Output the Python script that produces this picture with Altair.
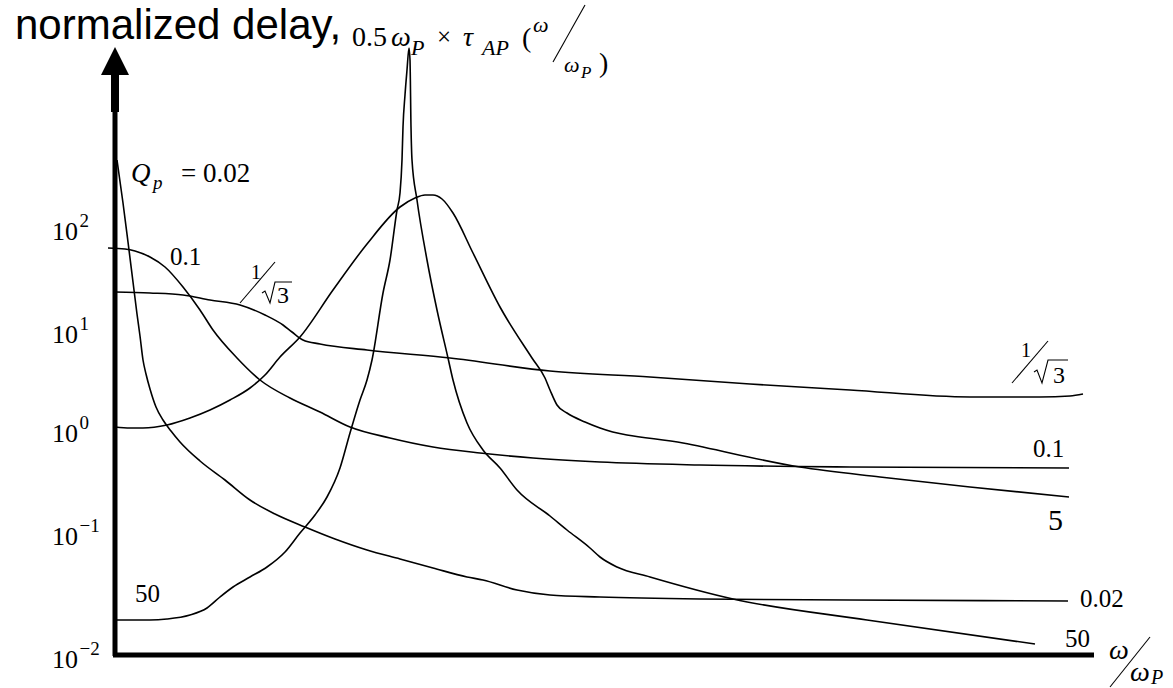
import altair as alt
import pandas as pd

# Horizontal axis: omega / omega_P (linear, arbitrary units).
# Vertical axis: log10 of the normalized delay 0.5*omega_P*tau_AP.

# --- curves, one pair of arrays per pole quality factor Q_p ---
Q002_X = [0.02, 0.08, 0.13, 0.18, 0.22, 0.25, 0.28, 0.31, 0.35, 0.41, 0.48, 0.56, 0.65, 0.85, 1.10,
          1.35, 1.60, 1.90, 2.20, 2.52, 2.85, 3.18, 3.52, 3.68, 4.02, 4.35, 4.85, 5.85, 7.35, 9.53]
Q002_Y = [2.72, 2.29, 1.90, 1.50, 1.18, 0.96, 0.72, 0.58, 0.43, 0.25, 0.12, 0.01, -0.10, -0.29, -0.48,
          -0.68, -0.82, -0.95, -1.07, -1.18, -1.27, -1.36, -1.45, -1.48, -1.58, -1.63, -1.65, -1.67, -1.68, -1.69]

Q01_X = [-0.07, 0.10, 0.20, 0.35, 0.50, 0.68, 0.85, 0.98, 1.22, 1.45, 1.75, 2.05, 2.35, 2.75, 3.18,
         3.65, 4.18, 4.85, 5.85, 7.35, 9.54]
Q01_Y = [1.84, 1.83, 1.81, 1.75, 1.65, 1.45, 1.22, 1.02, 0.74, 0.52, 0.34, 0.20, 0.05, -0.06, -0.15,
         -0.21, -0.26, -0.30, -0.33, -0.35, -0.36]

QR3_X = [0.0, 0.35, 0.68, 0.95, 1.25, 1.50, 1.68, 1.77, 1.88, 2.05, 2.52, 3.35, 4.35, 5.35, 6.35,
         7.35, 8.55, 9.25, 9.55, 9.68]
QR3_Y = [1.40, 1.39, 1.37, 1.32, 1.27, 1.17, 1.07, 1.00, 0.92, 0.88, 0.82, 0.74, 0.61, 0.55, 0.48,
         0.42, 0.35, 0.35, 0.36, 0.38]

Q5_X = [0.0, 0.15, 0.28, 0.52, 0.75, 0.95, 1.15, 1.35, 1.50, 1.65, 1.85, 2.18, 2.52, 2.85, 3.00,
        3.10, 3.18, 3.27, 3.38, 3.58, 3.85, 4.17, 4.30, 4.35, 4.42, 4.52, 4.70, 4.85, 5.68, 6.85,
        7.65, 8.55, 9.54]
Q5_Y = [0.05, 0.04, 0.04, 0.07, 0.14, 0.22, 0.32, 0.44, 0.57, 0.75, 0.95, 1.42, 1.88, 2.25, 2.34,
        2.37, 2.37, 2.33, 2.19, 1.79, 1.25, 0.74, 0.54, 0.42, 0.27, 0.19, 0.10, 0.04, -0.11, -0.35,
        -0.45, -0.55, -0.65]

Q50_X = [0.0, 0.35, 0.52, 0.75, 0.92, 1.05, 1.18, 1.35, 1.52, 1.70, 1.85, 2.00, 2.12, 2.25, 2.35,
         2.45, 2.52, 2.57, 2.68, 2.75, 2.82, 2.85, 2.87, 2.88, 2.90, 2.92, 2.94, 2.95, 2.96, 2.97,
         3.02, 3.12, 3.22, 3.33, 3.38, 3.52, 3.68, 3.85, 4.02, 4.35, 4.52, 4.75, 4.85, 5.02, 5.35,
         6.18, 7.52, 9.20]
Q50_Y = [-1.88, -1.88, -1.87, -1.83, -1.76, -1.65, -1.55, -1.45, -1.35, -1.20, -1.01, -0.83, -0.65, -0.36, -0.01,
         0.32, 0.52, 0.72, 1.39, 1.72, 2.22, 2.39, 2.72, 3.05, 3.37, 3.62, 3.84, 3.72, 3.05, 2.72,
         2.32, 1.72, 1.22, 0.74, 0.52, 0.09, -0.18, -0.36, -0.58, -0.84, -0.98, -1.16, -1.25, -1.35, -1.45,
         -1.67, -1.88, -2.12]

SERIES = [("0.02", Q002_X, Q002_Y), ("0.1", Q01_X, Q01_Y), ("1/sqrt3", QR3_X, QR3_Y),
          ("5", Q5_X, Q5_Y), ("50", Q50_X, Q50_Y)]

# --- decade labels on the vertical axis ---
TICK_BASE_Y = [1.92, 0.89, -0.10, -1.13, -2.36]
TICK_EXP = ["2", "1", "0", "\u22121", "\u22122"]

# --- curve annotations (text, x, baseline y) ---
CURVE_LABELS = [("0.1", 0.55, 1.67), ("0.1", 9.18, -0.25), ("0.02", 9.65, -1.75),
                ("50", 9.50, -2.15), ("50", 0.20, -1.70)]
BIG_LABELS = [("5", 9.33, -0.98)]
FRAC_NUM = [("1", 1.36, 1.53), ("1", 9.06, 0.75)]
FRAC_DEN = [("3", 1.62, 1.29), ("3", 9.38, 0.49)]

X_DOMAIN = [-1.15, 10.58]
Y_DOMAIN = [-2.56, 4.32]
W, H = 1173, 688
SERIF = "Liberation Serif"
SANS = "Liberation Sans"

xs = alt.Scale(domain=X_DOMAIN, nice=False, zero=False)
ys = alt.Scale(domain=Y_DOMAIN, nice=False, zero=False)


def X(f="x"):
    return alt.X(f, type="quantitative", scale=xs, axis=None)


def Y(f="y"):
    return alt.Y(f, type="quantitative", scale=ys, axis=None)


def polylines(groups):
    recs = []
    for g, pts in enumerate(groups):
        for i, (a, b) in enumerate(pts):
            recs.append({"g": g, "i": i, "x": a, "y": b})
    return pd.DataFrame(recs)


rows = []
for name, xv, yv in SERIES:
    for i, (a, b) in enumerate(zip(xv, yv)):
        rows.append({"q": name, "x": a, "y": b, "i": i})
curves_df = pd.DataFrame(rows)

curves = alt.Chart(curves_df).mark_line(
    color="black", strokeWidth=1.6, interpolate="monotone"
).encode(x=X(), y=Y(), detail="q:N", order="i:Q")

# axes drawn as heavy rules
axis_df = pd.DataFrame([
    {"x": 0.0, "y": -2.24, "x2": 0.0, "y2": 3.57, "w": 5},
    {"x": 0.0, "y": 3.20, "x2": 0.0, "y2": 3.57, "w": 8},
    {"x": -0.02, "y": -2.23, "x2": 9.79, "y2": -2.23, "w": 5},
])
axes = alt.Chart(axis_df).mark_rule(color="black", strokeCap="butt").encode(
    x=X(), y=Y(), x2="x2:Q", y2="y2:Q",
    strokeWidth=alt.StrokeWidth("w:Q", scale=None),
)

arrow = alt.Chart(pd.DataFrame([{"x": 0.0, "y": 3.71}])).mark_point(
    shape="M0,-1L1,1L-1,1Z", filled=True, color="black", size=784, opacity=1
).encode(x=X(), y=Y())

# fraction slashes
strokes_df = pd.DataFrame([
    {"x": 1.25, "y": 1.29, "x2": 1.60, "y2": 1.70},
    {"x": 8.97, "y": 0.49, "x2": 9.33, "y2": 0.91},
    {"x": 9.95, "y": -2.55, "x2": 10.35, "y2": -2.05},
    {"x": 4.38, "y": 3.70, "x2": 4.70, "y2": 4.27},
])
strokes = alt.Chart(strokes_df).mark_rule(color="black", strokeWidth=1.1).encode(
    x=X(), y=Y(), x2="x2:Q", y2="y2:Q"
)

# radical signs over the 3 in 1/sqrt(3)
radicals = alt.Chart(polylines([
    [(1.47, 1.39), (1.50, 1.41), (1.55, 1.29), (1.60, 1.50), (1.77, 1.50)],
    [(9.19, 0.60), (9.22, 0.62), (9.27, 0.49), (9.33, 0.72), (9.53, 0.72)],
])).mark_line(color="black", strokeWidth=1.1).encode(x=X(), y=Y(), detail="g:N", order="i:Q")


def text_layer(items, size, style="normal", family=SERIF, align="left"):
    df = pd.DataFrame([{"t": t, "x": a, "y": b} for t, a, b in items])
    return alt.Chart(df).mark_text(
        font=family, fontSize=size, fontStyle=style, align=align,
        baseline="alphabetic", color="black"
    ).encode(x=X(), y=Y(), text="t:N")


tick_base = text_layer([("10", -0.37, v) for v in TICK_BASE_Y], 26, align="right")
tick_exp = text_layer([(e, -0.355, v + 0.13) for e, v in zip(TICK_EXP, TICK_BASE_Y)], 19)

labels = text_layer(CURVE_LABELS, 25)
big = text_layer(BIG_LABELS, 30)
num = text_layer(FRAC_NUM, 20)
den = text_layer(FRAC_DEN, 24)

q_main = text_layer([("Q", 0.16, 2.50)], 27, style="italic")
q_sub = text_layer([("p", 0.38, 2.43)], 19, style="italic")
q_val = text_layer([("= 0.02", 0.66, 2.50)], 27)

title_sans = text_layer([("normalized delay,", -1.00, 3.93)], 42, family=SANS)
title_up = text_layer([("0.5", 2.37, 3.86), ("(", 4.07, 3.85), (")", 4.84, 3.60)], 28)
title_times = text_layer([("\u00d7", 3.22, 3.87)], 25)
title_it = text_layer([("\u03c9", 2.76, 3.86), ("\u03c4", 3.48, 3.86)], 28, style="italic")
title_sub = text_layer([("P", 2.96, 3.77), ("AP", 3.67, 3.77)], 22, style="italic")
title_frac = text_layer([("\u03c9", 4.18, 4.00), ("\u03c9", 4.49, 3.60)], 22, style="italic")
title_frac_sub = text_layer([("P", 4.66, 3.54)], 17, style="italic")

xlab_w = text_layer([("\u03c9", 9.94, -2.27), ("\u03c9", 10.15, -2.49)], 28, style="italic")
xlab_p = text_layer([("P", 10.36, -2.52)], 20, style="italic")

chart = alt.layer(
    curves, axes, arrow, strokes, radicals, tick_base, tick_exp, labels, big, num, den,
    q_main, q_sub, q_val, title_sans, title_up, title_times, title_it, title_sub,
    title_frac, title_frac_sub, xlab_w, xlab_p,
).properties(
    width=W, height=H, padding=0,
    autosize=alt.AutoSizeParams(type="none"),
    background="white",
).configure_view(stroke=None)

chart.save("out.html", embed_options={"renderer": "svg", "actions": False})
